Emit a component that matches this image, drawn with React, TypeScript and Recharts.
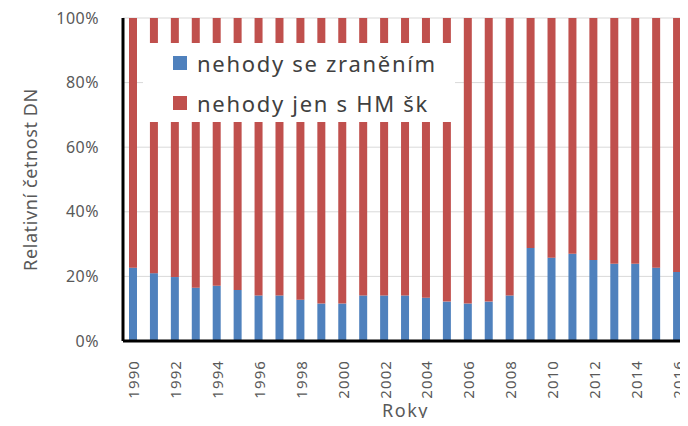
import React from "react";
import { BarChart, Bar, XAxis, YAxis, CartesianGrid } from "recharts";

const years = [
  1990, 1991, 1992, 1993, 1994, 1995, 1996, 1997, 1998, 1999, 2000, 2001, 2002, 2003,
  2004, 2005, 2006, 2007, 2008, 2009, 2010, 2011, 2012, 2013, 2014, 2015, 2016,
];
// share of accidents with injuries, in %
const injuredShare = [
  22.7, 21.0, 19.8, 16.5, 17.1, 15.8, 14.1, 14.1, 12.8, 11.6, 11.6, 14.1, 14.1, 14.1,
  13.4, 12.2, 11.6, 12.2, 14.1, 28.8, 25.8, 27.0, 25.1, 23.9, 23.9, 22.7, 21.4,
];
const yTicks = [0, 20, 40, 60, 80, 100];

const seriesNames = ["nehody se zraněním", "nehody jen s HM šk"];
const colors = ["#4f81bd", "#c0504d"];

const data = years.map((y, i) => ({
  year: String(y),
  injured: injuredShare[i],
  damage: 100 - injuredShare[i],
}));

const FONT = "'Noto Sans', 'Open Sans', sans-serif";

const XTick = (props: any) => {
  const { x, y, payload } = props;
  return (
    <g transform={`translate(${x},${y})`}>
      <text
        transform="rotate(-90)"
        x={-11}
        y={0}
        dominantBaseline="central"
        textAnchor="end"
        fill="#595959"
        fontSize={15}
        fontFamily={FONT}
        letterSpacing={1.1}
      >
        {payload.value}
      </text>
    </g>
  );
};

// legend sits over the bars on a white box, like in the source chart
const LegendBox = () => (
  <div
    style={{
      position: "absolute",
      left: 143,
      top: 43,
      background: "#fff",
      width: 312,
      height: 79,
      boxSizing: "border-box",
      paddingLeft: 30,
      paddingTop: 0,
      fontFamily: FONT,
      fontSize: 22,
      color: "#404040",
    }}
  >
    {seriesNames.map((n, i) => (
      <div key={n} style={{ display: "flex", alignItems: "center", height: 40 }}>
        <span
          style={{
            display: "inline-block",
            width: 14,
            height: 14,
            background: colors[i],
            marginRight: 10,
          }}
        />
        <span style={{ letterSpacing: 1.7 }}>{n}</span>
      </div>
    ))}
  </div>
);

export default function App() {
  return (
    <div style={{ margin: -8, width: 688, height: 426, background: "#fff", position: "relative" }}>
      <BarChart
        width={688}
        height={426}
        data={data}
        margin={{ top: 18, right: 0, left: 0, bottom: 25 }}
        barSize={8}
        style={{ overflow: "visible" }}
      >
        <CartesianGrid vertical={false} stroke="#d9d9d9" />
        <XAxis
          dataKey="year"
          interval={1}
          tickLine={false}
          axisLine={{ stroke: "#000", strokeWidth: 3 }}
          height={60}
          tick={<XTick />}
          label={{
            value: "Roky",
            position: "bottom",
            offset: 3,
            fill: "#595959",
            fontSize: 18,
            fontFamily: FONT,
            letterSpacing: 1.5,
          }}
        />
        <YAxis
          width={123}
          domain={[0, 100]}
          ticks={yTicks}
          tickFormatter={(v) => `${v}%`}
          tickLine={false}
          axisLine={{ stroke: "#000", strokeWidth: 3 }}
          tick={{ fill: "#595959", fontSize: 16, fontFamily: FONT, letterSpacing: 0.5 }}
          tickMargin={18}
          label={{
            value: "Relativní četnost DN",
            angle: -90,
            position: "insideLeft",
            offset: 31,
            fill: "#595959",
            fontSize: 18,
            fontFamily: FONT,
            letterSpacing: 0.6,
            style: { textAnchor: "middle" },
          }}
        />
        <Bar
          dataKey="injured"
          stackId="a"
          fill={colors[0]}
          name={seriesNames[0]}
          isAnimationActive={false}
        />
        <Bar
          dataKey="damage"
          stackId="a"
          fill={colors[1]}
          name={seriesNames[1]}
          isAnimationActive={false}
        />
      </BarChart>
      <LegendBox />
    </div>
  );
}
